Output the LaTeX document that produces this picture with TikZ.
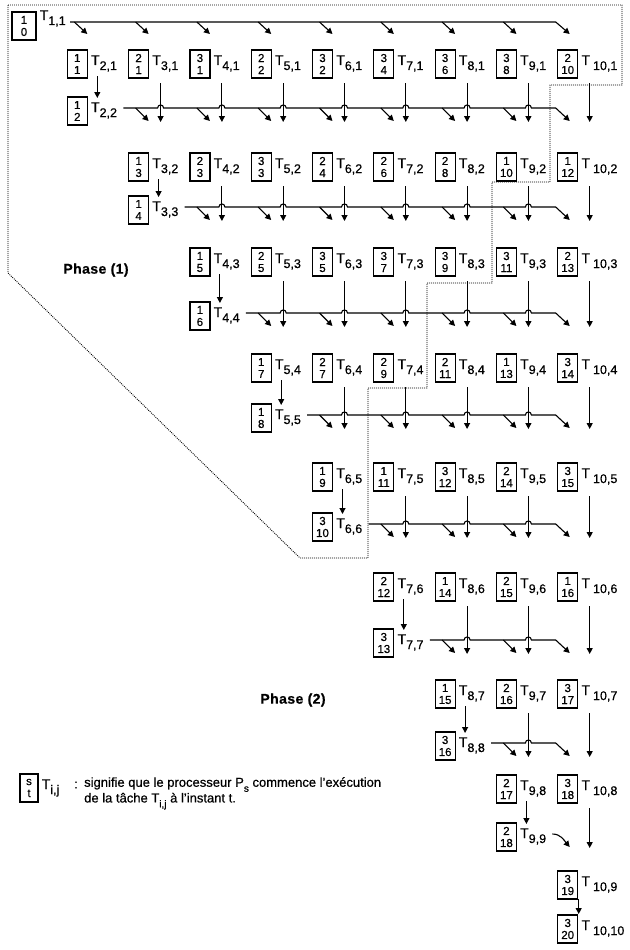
\documentclass[tikz,border=0pt]{standalone}
\usepackage{fontspec}
\setmainfont{Liberation Sans}[FakeBold=0.6]
\usetikzlibrary{arrows.meta,positioning,calc}

% left edge of the box in column #1
\newcommand\colx[1]{(6+61.3*(#1-1))}

\begin{document}
\begin{tikzpicture}[x=1pt,y=-1pt,
  tbox/.style={draw,line width=1.2pt,minimum width=20pt,minimum height=28pt,inner sep=0pt,align=center,font=\fontsize{11.5}{12}\selectfont},
  tlab/.style={anchor=base west,inner sep=0pt,font=\fontsize{14}{14}\selectfont},
  ln/.style={line width=1.1pt},
  arr/.style={line width=1.1pt,-{Triangle[length=6pt,width=6pt]}},
  phase/.style={font=\bfseries\fontsize{14}{14}\selectfont\addfontfeature{LetterSpace=3}},
  bound/.style={line width=0.9pt,dash pattern=on 0.9pt off 1.1pt}]
\useasboundingbox (0,0) rectangle (629,950);
% tasks: box (processor / start time) and name
\node[tbox,minimum width=24pt] (b1-1) at (24,26) {1\\0};
\node[tlab] (t1-1) at ([xshift=3pt,yshift=6pt]b1-1.east) {T\raisebox{-5pt}{\fontsize{12.5}{12}\selectfont 1,1}};
\foreach \i/\j/\pr/\tm/\y in {2/1/1/1/64,3/1/2/1/64,4/1/3/1/64,5/1/2/2/64,6/1/3/2/64,7/1/3/4/64,8/1/3/6/64,9/1/3/8/64,10/1/2/10/64,
  2/2/1/2/111,
  3/2/1/3/167,4/2/2/3/167,5/2/3/3/167,6/2/2/4/167,7/2/2/6/167,8/2/2/8/167,9/2/1/10/167,10/2/1/12/167,
  3/3/1/4/210,
  4/3/1/5/262,5/3/2/5/262,6/3/3/5/262,7/3/3/7/262,8/3/3/9/262,9/3/3/11/262,10/3/2/13/262,
  4/4/1/6/316,
  5/4/1/7/368,6/4/2/7/368,7/4/2/9/368,8/4/2/11/368,9/4/1/13/368,10/4/3/14/368,
  5/5/1/8/418,
  6/5/1/9/477,7/5/1/11/477,8/5/3/12/477,9/5/2/14/477,10/5/3/15/477,
  6/6/3/10/527,
  7/6/2/12/587,8/6/1/14/587,9/6/2/15/587,10/6/1/16/587,
  7/7/3/13/643,
  8/7/1/15/694,9/7/2/16/694,10/7/3/17/694,
  8/8/3/16/746,
  9/8/2/17/789,10/8/3/18/789,
  9/9/2/18/837,
  10/9/3/19/885,
  10/10/3/20/929}{
  \node[tbox] (b\i-\j) at ({\colx{\i}+10},\y) {\pr\\\tm};
  \node[tlab] (t\i-\j) at ([xshift=3pt,yshift=-1pt]b\i-\j.east) {T\ifnum\i=10 \hspace{3pt}\fi\raisebox{-5pt}{\fontsize{12.5}{12}\selectfont\i,\j}};
}
% row of T1,1
\draw[arr] (70,22) -- ({\colx{10}-2},22) -- ({\colx{10}+12},34);
\foreach \i in {2,...,9} \draw[arr] ({\colx{\i}+7},22) -- ({\colx{\i}+20},34);
% rows of T2,2 ... T8,8
\foreach \k/\ya/\yb in {2/64/111,3/167/210,4/262/316,5/368/418,6/477/527,7/587/643,8/694/746}{
  \pgfmathtruncatemacro\kp{\k+1}
  \pgfmathsetmacro\yl{\yb-3}
  \draw[arr] ({\colx{\k}+56},\yl) \foreach \i in {\kp,...,9}{ -- ({\colx{\i}+29},\yl) .. controls ({\colx{\i}+29},\yl-4) and ({\colx{\i}+35},\yl-4) .. ({\colx{\i}+35},\yl)} -- ({\colx{10}-2},\yl) -- ({\colx{10}+12},\yl+13);
  \foreach \i in {\kp,...,9} \draw[arr] ({\colx{\i}+7},\yl) -- ({\colx{\i}+20},\yl+13);
  \foreach \i in {\kp,...,10} \draw[arr] ({\colx{\i}+32},\ya+19) -- ({\colx{\i}+32},\yb+11);
  \draw[arr] ({\colx{\k}+30},\ya+12) -- ({\colx{\k}+30},\yb-13);
}
% rows of T9,9 and T10,10
\draw[arr] ({\colx{9}+30},801) -- ({\colx{9}+30},824);
\draw[arr] (552.4,834) to[out=0,in=130] (569.7,847);
\draw[arr] ({\colx{10}+32},808) -- ({\colx{10}+32},848);
\draw[arr] ({\colx{10}+21},899) -- ({\colx{10}+21},914);
% phases
\draw[bound] (8,5) -- (622,5) -- (622,85) -- (550,85) -- (550,182) -- (492,182) -- (492,283) -- (427,283) -- (427,388) -- (368,388) -- (368,558) -- (300,558) -- (8,273) -- cycle;
\node[phase] (ph1) at (96,270) {Phase (1)};
\node[phase] (ph2) at (293,700) {Phase (2)};
% legend
\node[tbox,minimum width=18pt] (key) at (29,788) {s\\t};
\node[tlab] (keylab) at ([xshift=3pt,yshift=-1pt]key.east) {T\raisebox{-5pt}{\fontsize{12.5}{12}\selectfont i,j}};
\node[font=\fontsize{13}{13}\selectfont] (colon) at (76,785) {:};
\node[anchor=north west,inner sep=0pt,align=left,font=\fontsize{13}{12}\selectfont] (keytxt) at (84,777) {signifie que le processeur P\raisebox{-5pt}{\fontsize{10}{10}\selectfont s} commence l'exécution\\de la tâche T\raisebox{-5pt}{\fontsize{10}{10}\selectfont i,j} à l'instant t.};
\end{tikzpicture}
\end{document}
